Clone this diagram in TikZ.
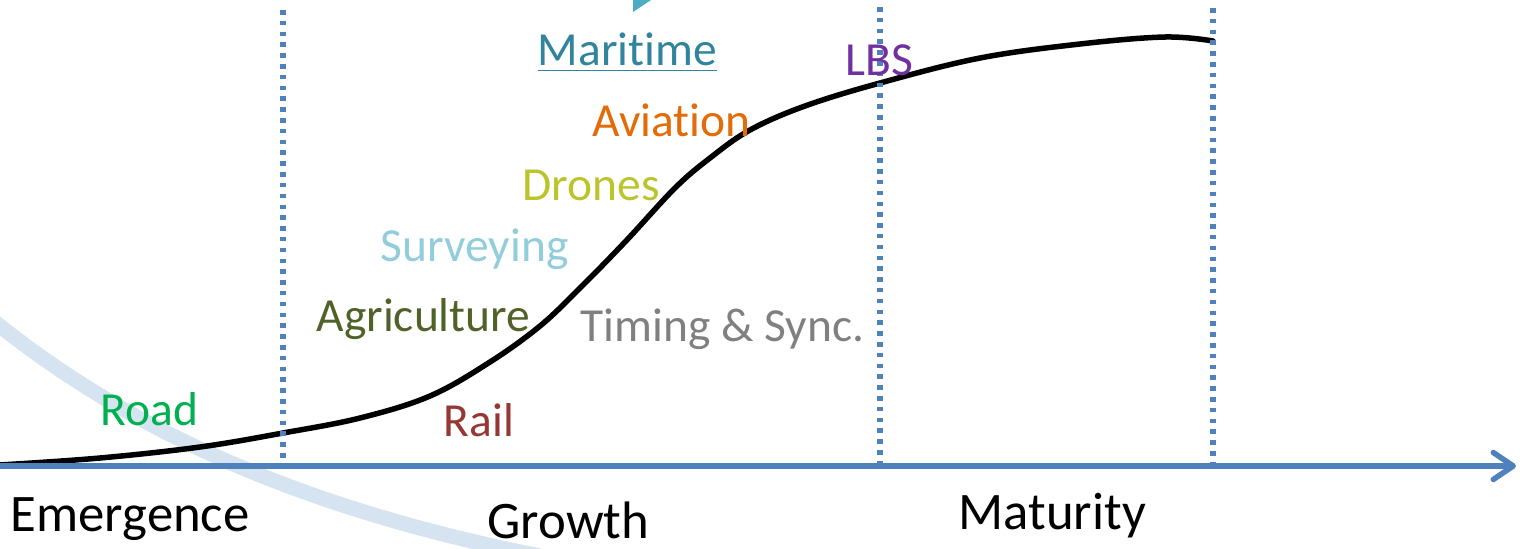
\documentclass[tikz,border=0pt]{standalone}
\usepackage{fontspec}
\setmainfont{Carlito}[RawFeature={-liga;-clig;-calt;-dlig}]
\usetikzlibrary{arrows.meta}
\definecolor{axisblue}{HTML}{4F81BD}
\definecolor{swooshblue}{HTML}{D5E4F0}
\definecolor{tealtip}{HTML}{4BACC6}
\definecolor{maritimec}{HTML}{31849B}
\definecolor{aviationc}{HTML}{E36C09}
\definecolor{dronesc}{HTML}{BCC42C}
\definecolor{surveyc}{HTML}{92CDDC}
\definecolor{agric}{HTML}{4F6228}
\definecolor{timingc}{HTML}{808080}
\definecolor{roadc}{HTML}{00B050}
\definecolor{railc}{HTML}{953735}
\definecolor{lbsc}{HTML}{7030A0}
\tikzset
{
    sector/.style  = {inner sep=0pt, anchor=base west, font=\fontsize{13.5}{16}\selectfont},
    stage/.style   = {inner sep=0pt, anchor=base west, font=\fontsize{15}{18}\selectfont},
    divider/.style = {axisblue, line width=0.055cm, dash pattern=on 0.045cm off 0.063cm},
    axis/.style    = {axisblue, line width=0.055cm, line cap=round, -{Straight Barb[length=0.2cm, width=0.27cm, round]}},
    sigmoid/.style = {black, line width=0.055cm, line cap=round},
    swoosh/.style  = {swooshblue, line width=0.15cm}
}

\begin{document}
\begin{tikzpicture}[x=0.01cm, y=-0.01cm]
	\useasboundingbox (0,0) rectangle (1520,548);

	% background swoosh and the cut-off arrow tip at the top
	\draw [swoosh] (-10,318) .. controls (140,440) and (320,512) .. (540,556);
	\fill [tealtip] (633,0) -- (651,0) -- (633,12) -- cycle;

	% adoption curve
	\draw [sigmoid] plot[smooth, tension=0.6] coordinates {(0,465) (100,458) (200,447) (283,433) (360,418) (430,396) (490,362) (540,326) (580,288) (625,242) (675,188) (710,158) (750,130) (805,106) (880,83) (980,58) (1080,44) (1165,37) (1213,41)};

	% stage boundaries
	\coordinate (d1) at (283,10);
	\coordinate (d2) at (880,7);
	\coordinate (d3) at (1213,8);
	\draw [divider] (d1) -- (d1 |- 0,466);
	\draw [divider] (d2) -- (d2 |- 0,466);
	\draw [divider] (d3) -- (d3 |- 0,466);

	% time axis
	\coordinate (o) at (0,466);
	\coordinate (tip) at (1516,466);
	\draw [axis] (o) -- (tip);

	% sectors
	\node (maritime) [sector, text=maritimec] at (537,65) {\underline{Maritime}};
	\node (aviation) [sector, text=aviationc] at (592,136) {Aviation};
	\node (drones)   [sector, text=dronesc]   at (522,200) {Drones};
	\node (survey)   [sector, text=surveyc]   at (380,261) {Surveying};
	\node (agri)     [sector, text=agric]     at (316,331) {Agriculture};
	\node (timing)   [sector, text=timingc]   at (580,341) {Timing \& Sync.};
	\node (road)     [sector, text=roadc]     at (100,425) {Road};
	\node (rail)     [sector, text=railc]     at (443,436) {Rail};
	\node (lbs)      [sector, text=lbsc]      at (845,75)  {LBS};

	% stages
	\node (emerg)  [stage] at (10,531)  {Emergence};
	\node (growth) [stage] at (487,538) {Growth};
	\node (mature) [stage] at (958,529) {Maturity};
\end{tikzpicture}
\end{document}
